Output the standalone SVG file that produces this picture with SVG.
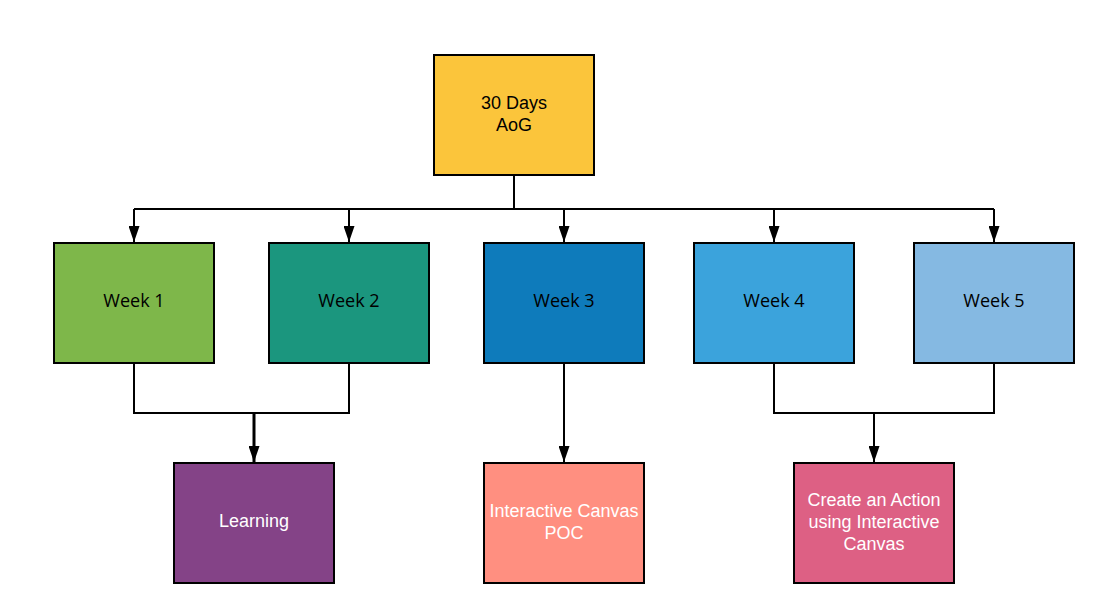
<svg xmlns="http://www.w3.org/2000/svg" width="1096" height="608" viewBox="0 0 1096 608">
<style>
.box{stroke:#000;stroke-width:2}
.t{font-family:"Liberation Sans",Arial,sans-serif;font-size:18px;text-anchor:middle}
.wk{font-family:"Open Sans","Liberation Sans",sans-serif;font-size:18px;text-anchor:middle}
.w{fill:#fff}
.c{fill:none;stroke:#000;stroke-width:2}
</style>
<defs>
<marker id="ah" viewBox="0 0 16 11" refX="16" refY="5.5" markerWidth="16" markerHeight="11" markerUnits="userSpaceOnUse" orient="auto" preserveAspectRatio="none">
<path d="M0,0 L16,5.5 L0,11 z" fill="#000"/>
</marker>
</defs>
<rect width="1096" height="608" fill="#fff"/>
<g id="connectors">
<path class="c" d="M514,175 V209"/>
<path class="c" d="M134,209 H994"/>
<path class="c" d="M134,209 V242" marker-end="url(#ah)"/>
<path class="c" d="M349,209 V242" marker-end="url(#ah)"/>
<path class="c" d="M564,209 V242" marker-end="url(#ah)"/>
<path class="c" d="M774,209 V242" marker-end="url(#ah)"/>
<path class="c" d="M994,209 V242" marker-end="url(#ah)"/>
<path class="c" d="M134,363 V413 H349 V363"/>
<path class="c" d="M254,413 V462" marker-end="url(#ah)" style="stroke-width:3"/>
<path class="c" d="M564,363 V462" marker-end="url(#ah)"/>
<path class="c" d="M774,363 V413 H994 V363"/>
<path class="c" d="M874,413 V462" marker-end="url(#ah)"/>
</g>
<g id="aog"><rect class="box" x="434" y="55" width="160" height="120" fill="#FBC53B"/><text class="t" x="514" y="108.5">30 Days</text><text class="t" x="514" y="130.5">AoG</text></g>
<g id="week1"><rect class="box" x="54" y="243" width="160" height="120" fill="#7EB74A"/><text class="wk" x="134" y="306.5">Week 1</text></g>
<g id="week2"><rect class="box" x="269" y="243" width="160" height="120" fill="#1B967E"/><text class="wk" x="349" y="306.5">Week 2</text></g>
<g id="week3"><rect class="box" x="484" y="243" width="160" height="120" fill="#0E7BBB"/><text class="wk" x="564" y="306.5">Week 3</text></g>
<g id="week4"><rect class="box" x="694" y="243" width="160" height="120" fill="#3BA3DC"/><text class="wk" x="774" y="306.5">Week 4</text></g>
<g id="week5"><rect class="box" x="914" y="243" width="160" height="120" fill="#85B9E2"/><text class="wk" x="994" y="306.5">Week 5</text></g>
<g id="learning"><rect class="box" x="174" y="463" width="160" height="120" fill="#844387"/><text class="t w" x="254" y="526.5">Learning</text></g>
<g id="poc"><rect class="box" x="484" y="463" width="160" height="120" fill="#FF8F80"/><text class="t w" x="564" y="516.5">Interactive Canvas</text><text class="t w" x="564" y="538.5">POC</text></g>
<g id="action"><rect class="box" x="794" y="463" width="160" height="120" fill="#DD6084"/><text class="t w" x="874" y="505.5">Create an Action</text><text class="t w" x="874" y="527.5">using Interactive</text><text class="t w" x="874" y="549.5">Canvas</text></g>
</svg>
